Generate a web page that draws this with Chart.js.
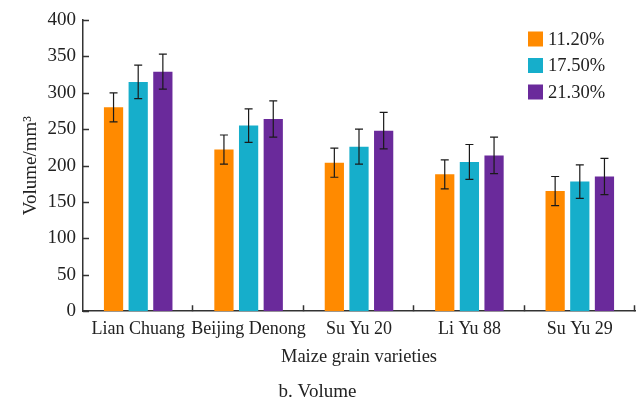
<!DOCTYPE html>
<html>
<head>
<meta charset="utf-8">
<script src="https://cdn.jsdelivr.net/npm/chart.js@4.4.1/dist/chart.umd.min.js"></script>
<style>
  html, body { margin: 0; padding: 0; background: #fff; }
  #wrap { width: 640px; height: 403px; position: relative; }
</style>
</head>
<body>
<div id="wrap"><canvas id="volChart" width="640" height="403"></canvas></div>
<script>
// grain varieties and moisture levels
const varieties = ['Lian Chuang', 'Beijing Denong', 'Su Yu 20', 'Li Yu 88', 'Su Yu 29'];
const moistureLabels = ['11.20%', '17.50%', '21.30%'];

// mean volume (mm3) per moisture level
const vol112 = [280, 222, 204, 188, 165];
const vol175 = [315, 255, 226, 205, 178];
const vol213 = [329, 264, 248, 214, 185];

// standard deviations
const err112 = [20, 20, 20, 20, 20];
const err175 = [23, 23, 24, 24, 23];
const err213 = [24, 25, 25, 25, 25];

const yTicks = [0, 50, 100, 150, 200, 250, 300, 350, 400];

const barColors = ['#FF8A00', '#16AECB', '#6A2A9B'];
const serif = "'Liberation Serif', 'Times New Roman', serif";
const ink = '#222';

// error bars drawn on top of each bar
const errorBars = {
  id: 'errorBars',
  afterDatasetsDraw(chart) {
    const ctx = chart.ctx;
    const y = chart.scales.y;
    ctx.save();
    ctx.strokeStyle = '#1a1a1a';
    ctx.lineWidth = 1.2;
    chart.data.datasets.forEach((ds, di) => {
      const meta = chart.getDatasetMeta(di);
      meta.data.forEach((bar, i) => {
        const v = ds.data[i], e = ds.errors[i];
        const top = y.getPixelForValue(v + e);
        const bot = y.getPixelForValue(v - e);
        const cap = 4;
        ctx.beginPath();
        ctx.moveTo(bar.x, top); ctx.lineTo(bar.x, bot);
        ctx.moveTo(bar.x - cap, top); ctx.lineTo(bar.x + cap, top);
        ctx.moveTo(bar.x - cap, bot); ctx.lineTo(bar.x + cap, bot);
        ctx.stroke();
      });
    });
    ctx.restore();
  }
};

// inward tick marks on both axes
const innerTicks = {
  id: 'innerTicks',
  afterDraw(chart) {
    const ctx = chart.ctx;
    const x = chart.scales.x, y = chart.scales.y;
    const len = 6;
    ctx.save();
    ctx.strokeStyle = '#333';
    ctx.lineWidth = 1.5;
    ctx.beginPath();
    y.ticks.forEach(t => {
      const py = Math.round(y.getPixelForValue(t.value)) + 0.5;
      ctx.moveTo(x.left, py); ctx.lineTo(x.left + len, py);
    });
    const step = (x.right - x.left) / varieties.length;
    for (let i = 1; i <= varieties.length; i++) {
      const px = Math.round(x.left + step * i) - 0.5;
      ctx.moveTo(px, y.bottom); ctx.lineTo(px, y.bottom - len);
    }
    ctx.stroke();
    ctx.restore();
  }
};

// legend boxes in the top right corner
const cornerLegend = {
  id: 'cornerLegend',
  afterDraw(chart) {
    const ctx = chart.ctx;
    const x0 = 528, y0 = 39, rowH = 26.5, box = 15;
    ctx.save();
    ctx.font = '18.5px ' + serif;
    ctx.textBaseline = 'middle';
    chart.data.datasets.forEach((ds, i) => {
      const cy = y0 + i * rowH;
      ctx.fillStyle = ds.backgroundColor;
      ctx.fillRect(x0, cy - box / 2, box, box);
      ctx.fillStyle = ink;
      ctx.fillText(ds.label, x0 + box + 5, cy + 1);
    });
    ctx.restore();
  }
};

const seriesValues = [vol112, vol175, vol213];
const seriesErrors = [err112, err175, err213];

new Chart(document.getElementById('volChart'), {
  type: 'bar',
  data: {
    labels: varieties,
    datasets: moistureLabels.map((lab, i) => ({
      label: lab,
      data: seriesValues[i],
      errors: seriesErrors[i],
      backgroundColor: barColors[i],
      borderWidth: 0,
      categoryPercentage: 0.67,
      barPercentage: 0.78
    }))
  },
  options: {
    responsive: false,
    animation: false,
    layout: { padding: { top: 20, right: 5, left: 0, bottom: 0 } },
    plugins: {
      legend: { display: false },
      tooltip: { enabled: false },
      subtitle: {
        display: true,
        position: 'bottom',
        text: 'b. Volume',
        color: ink,
        font: { family: serif, size: 19 },
        padding: { top: 10, bottom: 0 }
      }
    },
    scales: {
      x: {
        afterFit(scale) { scale.height = 59; },
        grid: { display: false, drawTicks: false },
        border: { color: '#333', width: 1.5 },
        ticks: { color: ink, font: { family: serif, size: 18 }, padding: 7, autoSkip: false, maxRotation: 0 },
        title: {
          display: true,
          text: 'Maize grain varieties',
          color: ink,
          font: { family: serif, size: 18.5 },
          padding: { top: 1, bottom: 2 }
        }
      },
      y: {
        min: 0,
        max: 400,
        afterBuildTicks(scale) { scale.ticks = yTicks.map(v => ({ value: v })); },
        afterFit(scale) { scale.width = 83; },
        grid: { display: false, drawTicks: false },
        border: { color: '#333', width: 1.5 },
        ticks: { color: ink, font: { family: serif, size: 19 }, padding: 7 },
        title: {
          display: true,
          text: 'Volume/mm³',
          color: ink,
          font: { family: serif, size: 19 },
          padding: { top: 20, bottom: 0 }
        }
      }
    }
  },
  plugins: [errorBars, innerTicks, cornerLegend]
});
</script>
</body>
</html>
